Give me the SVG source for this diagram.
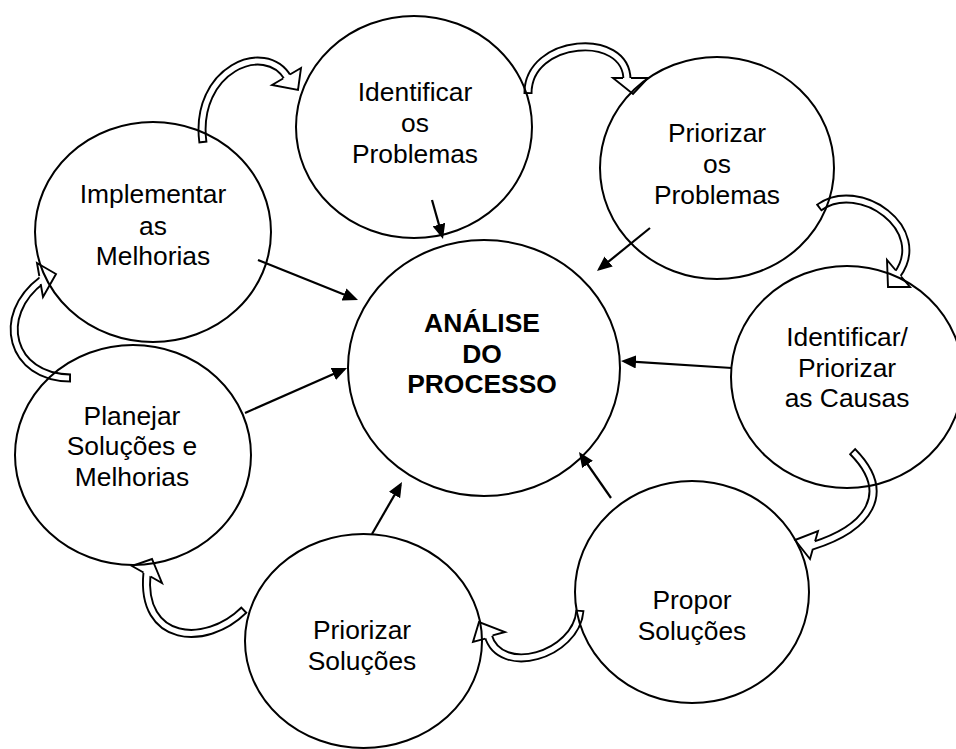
<svg xmlns="http://www.w3.org/2000/svg" width="956" height="749" viewBox="0 0 956 749">
  <defs>
    <style>
      .node ellipse { fill: none; stroke: #000; stroke-width: 2; }
      .node text { font-family: "Liberation Sans", Arial, sans-serif; font-size: 26.4px; text-anchor: middle; fill: #000; }
      .hub text { font-weight: bold; }
      .link { fill: none; stroke: #000; stroke-width: 2.2; marker-end: url(#head); }
      .band { fill: none; stroke: #000; stroke-width: 9; }
      .band-in { fill: none; stroke: #fff; stroke-width: 5.2; stroke-dasharray: 0 1.3 200; }
      .tip { fill: #fff; stroke: #000; stroke-width: 1.9; stroke-linejoin: miter; }
    </style>
    <marker id="head" markerUnits="userSpaceOnUse" markerWidth="15" markerHeight="13" refX="12" refY="6.5" orient="auto">
      <path d="M0,0 L15,6.5 L0,13 z" fill="#000"/>
    </marker>
    <!-- centre lines of the hollow curved arrows (tail to head) -->
    <path id="b1" pathLength="100" d="M203,143 C193,70 265,39 288,78"/>
    <path id="b2" pathLength="100" d="M528,94 C527,38 627,30 627,80"/>
    <path id="b3" pathLength="100" d="M818.5,208 C858.5,178 931,229 897,275"/>
    <path id="b4" pathLength="100" d="M852,451 C894,493 869,528 812,546"/>
    <path id="b5" pathLength="100" d="M580,610 C577,655 500,678 488,635"/>
    <path id="b6" pathLength="100" d="M244.5,609.5 C206,648 140,643 147,573"/>
    <path id="b7" pathLength="100" d="M71,378 C11,378 -6,316 42,280"/>
  </defs>

  <rect width="956" height="749" fill="#fff"/>

  <g id="connectors">
    <!-- cycle: hollow curved arrows between neighbouring steps -->
    <g id="cycle">
      <use href="#b1" class="band"/><use href="#b1" class="band-in"/>
      <path class="tip" d="M283.1,78.5 L272,85 L298,90 L301,68 L289.9,74.5"/>
      <use href="#b2" class="band"/><use href="#b2" class="band-in"/>
      <path class="tip" d="M623,78 L613,78 L633,94 L648,78 L631,78"/>
      <use href="#b3" class="band"/><use href="#b3" class="band-in"/>
      <path class="tip" d="M895.9,270.5 L887,260 L888,287 L910,287 L901.1,276.5"/>
      <use href="#b4" class="band"/><use href="#b4" class="band-in"/>
      <path class="tip" d="M815.1,541.2 L818,531 L795,540 L810,559 L812.9,548.8"/>
      <use href="#b5" class="band"/><use href="#b5" class="band-in"/>
      <path class="tip" d="M485.3,638.6 L473,642 L479,622 L505,632 L492.7,635.4"/>
      <use href="#b6" class="band"/><use href="#b6" class="band-in"/>
      <path class="tip" d="M143.5,572.5 L132,566 L152,559 L162,583 L150.5,576.5"/>
      <use href="#b7" class="band"/><use href="#b7" class="band-in"/>
      <path class="tip" d="M40.7,284 L43,297 L56,274 L37,263 L39.3,276"/>
    </g>
    <!-- spokes: every step feeds the central analysis -->
    <g id="spokes">
      <line class="link" x1="432" y1="200" x2="442.2" y2="236.1"/>
      <line class="link" x1="650" y1="228" x2="599.3" y2="269.1"/>
      <line class="link" x1="732" y1="368" x2="624" y2="361.2"/>
      <line class="link" x1="611" y1="498" x2="580.7" y2="454.5"/>
      <line class="link" x1="372" y1="534" x2="400.5" y2="484.6"/>
      <line class="link" x1="245" y1="413" x2="344.3" y2="369.2"/>
      <line class="link" x1="258" y1="260" x2="355.2" y2="298.9"/>
    </g>
  </g>

  <g id="analise" class="node hub">
    <ellipse cx="484" cy="368" rx="136" ry="128"/>
    <text x="482" y="332">ANÁLISE</text>
    <text x="482" y="362.5">DO</text>
    <text x="482" y="393">PROCESSO</text>
  </g>

  <g id="identificar-problemas" class="node">
    <ellipse cx="414" cy="127" rx="118" ry="111"/>
    <text x="415" y="101">Identificar</text>
    <text x="415" y="132">os</text>
    <text x="415" y="163">Problemas</text>
  </g>

  <g id="priorizar-problemas" class="node">
    <ellipse cx="717" cy="168" rx="117" ry="111"/>
    <text x="717" y="142">Priorizar</text>
    <text x="717" y="173">os</text>
    <text x="717" y="204">Problemas</text>
  </g>

  <g id="identificar-causas" class="node">
    <ellipse cx="847" cy="377" rx="116" ry="111"/>
    <text x="847" y="346">Identificar/</text>
    <text x="847" y="377">Priorizar</text>
    <text x="847" y="407">as Causas</text>
  </g>

  <g id="propor-solucoes" class="node">
    <ellipse cx="692" cy="592" rx="117" ry="111"/>
    <text x="692" y="609">Propor</text>
    <text x="692" y="640">Soluções</text>
  </g>

  <g id="priorizar-solucoes" class="node">
    <ellipse cx="363.5" cy="641" rx="118.5" ry="107"/>
    <text x="362" y="639">Priorizar</text>
    <text x="362" y="670">Soluções</text>
  </g>

  <g id="planejar" class="node">
    <ellipse cx="133" cy="455" rx="118" ry="110"/>
    <text x="132" y="425">Planejar</text>
    <text x="132" y="455">Soluções e</text>
    <text x="132" y="486">Melhorias</text>
  </g>

  <g id="implementar" class="node">
    <ellipse cx="153" cy="232" rx="118" ry="110"/>
    <text x="153" y="203">Implementar</text>
    <text x="153" y="235">as</text>
    <text x="153" y="265">Melhorias</text>
  </g>
</svg>
